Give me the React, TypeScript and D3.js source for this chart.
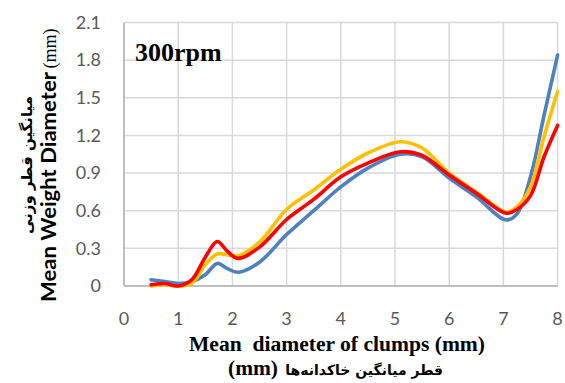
import React from "react";
import * as d3 from "d3";

const xValues = [0.5, 0.75, 1, 1.25, 1.5, 1.72, 1.9, 2.1, 2.5, 3, 3.5, 4, 4.5, 5.1, 5.5, 6, 6.5, 7.05, 7.25, 7.5, 7.75, 8];
const blueSeries = [0.05, 0.035, 0.02, 0.035, 0.09, 0.18, 0.14, 0.11, 0.19, 0.41, 0.6, 0.79, 0.94, 1.05, 1.03, 0.86, 0.71, 0.527, 0.575, 0.87, 1.36, 1.84];
const yellowSeries = [0.0, 0.01, 0.0, 0.02, 0.17, 0.255, 0.25, 0.24, 0.35, 0.61, 0.765, 0.93, 1.06, 1.15, 1.1, 0.9, 0.75, 0.59, 0.63, 0.79, 1.19, 1.55];
const redSeries = [0.01, 0.02, 0.0, 0.05, 0.23, 0.355, 0.28, 0.22, 0.31, 0.53, 0.69, 0.87, 0.98, 1.07, 1.04, 0.885, 0.74, 0.58, 0.61, 0.72, 1.03, 1.28];
const xTicks = [0, 1, 2, 3, 4, 5, 6, 7, 8];
const yTicks = [0, 0.3, 0.6, 0.9, 1.2, 1.5, 1.8, 2.1];
const seriesColors = ["#4F81BD", "#FFC000", "#FF0000"];

const W = 565;
const H = 383;

export default function App() {
  const x = d3.scaleLinear().domain([0, 8]).range([124, 557.6]);
  const y = d3.scaleLinear().domain([0, 2.1]).range([286, 22.5]);
  const line = d3
    .line<[number, number]>()
    .x((d) => x(d[0]))
    .y((d) => y(d[1]))
    .curve(d3.curveCatmullRom.alpha(0.5));
  const series = [blueSeries, yellowSeries, redSeries];
  const tickFont = "Lato, 'Open Sans', sans-serif";
  const serif = "'Liberation Serif', 'Times New Roman', serif";
  return (
    <svg width={W} height={H} style={{ position: "absolute", left: 0, top: 0, background: "#fff" }}>
      {/* grid */}
      {yTicks.slice(1).map((t) => (
        <line key={"gy" + t} x1={x(0)} x2={x(8)} y1={y(t)} y2={y(t)} stroke="#d9d9d9" strokeWidth={1.5} />
      ))}
      {xTicks.slice(1).map((t) => (
        <line key={"gx" + t} x1={x(t)} x2={x(t)} y1={y(0)} y2={y(2.1)} stroke="#d9d9d9" strokeWidth={1.5} />
      ))}
      {/* axes */}
      <line x1={x(0)} x2={x(0)} y1={y(0)} y2={y(2.1)} stroke="#bfbfbf" strokeWidth={2} />
      <line x1={x(0)} x2={x(8)} y1={y(0)} y2={y(0)} stroke="#bfbfbf" strokeWidth={2} />
      {/* series */}
      {series.map((s, i) => (
        <path
          key={i}
          d={line(xValues.map((xv, j) => [xv, s[j]] as [number, number])) || ""}
          fill="none"
          stroke={seriesColors[i]}
          strokeWidth={3.6}
          strokeLinecap="round"
          strokeLinejoin="round"
        />
      ))}
      {/* tick labels */}
      {yTicks.map((t) => (
        <text key={"ty" + t} x={101} y={y(t)} dy="0.35em" textAnchor="end" fontFamily={tickFont} fontSize={18} fill="#595959">
          {t === 0 ? "0" : t.toFixed(1)}
        </text>
      ))}
      {xTicks.map((t) => (
        <text key={"tx" + t} x={x(t)} y={325} textAnchor="middle" fontFamily={tickFont} fontSize={18} fill="#595959">
          {t}
        </text>
      ))}
      {/* in-plot label */}
      <text x={135} y={60.5} fontFamily={serif} fontWeight="bold" fontSize={26} fill="#000">
        300rpm
      </text>
      {/* x titles */}
      <text
        x={189}
        y={351}
        fontFamily={serif}
        fontWeight="bold"
        fontSize={20}
        fill="#000"
        textLength={296}
        lengthAdjust="spacingAndGlyphs"
        style={{ whiteSpace: "pre" }}
      >
        {"Mean  diameter of clumps (mm)"}
      </text>
      <text x={228} y={375} fontFamily={serif} fontWeight="bold" fontSize={20} fill="#000" textLength={50} lengthAdjust="spacingAndGlyphs">
        (mm)
      </text>
      <text
        x={443}
        y={375}
        textAnchor="end"
        fontFamily="'DejaVu Sans', sans-serif"
        fontWeight="bold"
        fontSize={14}
        fill="#000"
      >
        قطر میانگین خاکدانه‌ها
      </text>
      {/* y titles */}
      <text
        transform="translate(56,302) rotate(-90)"
        fontFamily={tickFont}
        fontWeight="bold"
        fontSize={21}
        fill="#000"
        textLength={230}
        lengthAdjust="spacingAndGlyphs"
      >
        Mean Weight Diameter
      </text>
      <text
        transform="translate(56,48.5) rotate(-90)"
        textAnchor="middle"
        fontFamily={serif}
        fontSize={18}
        fill="#000"
      >
        (mm)
      </text>
      <text
        transform="translate(32,165) rotate(-90)"
        textAnchor="middle"
        fontFamily="'DejaVu Sans', sans-serif"
        fontWeight="bold"
        fontSize={15}
        fill="#000"
      >
        میانگین قطر وزنی
      </text>
    </svg>
  );
}
